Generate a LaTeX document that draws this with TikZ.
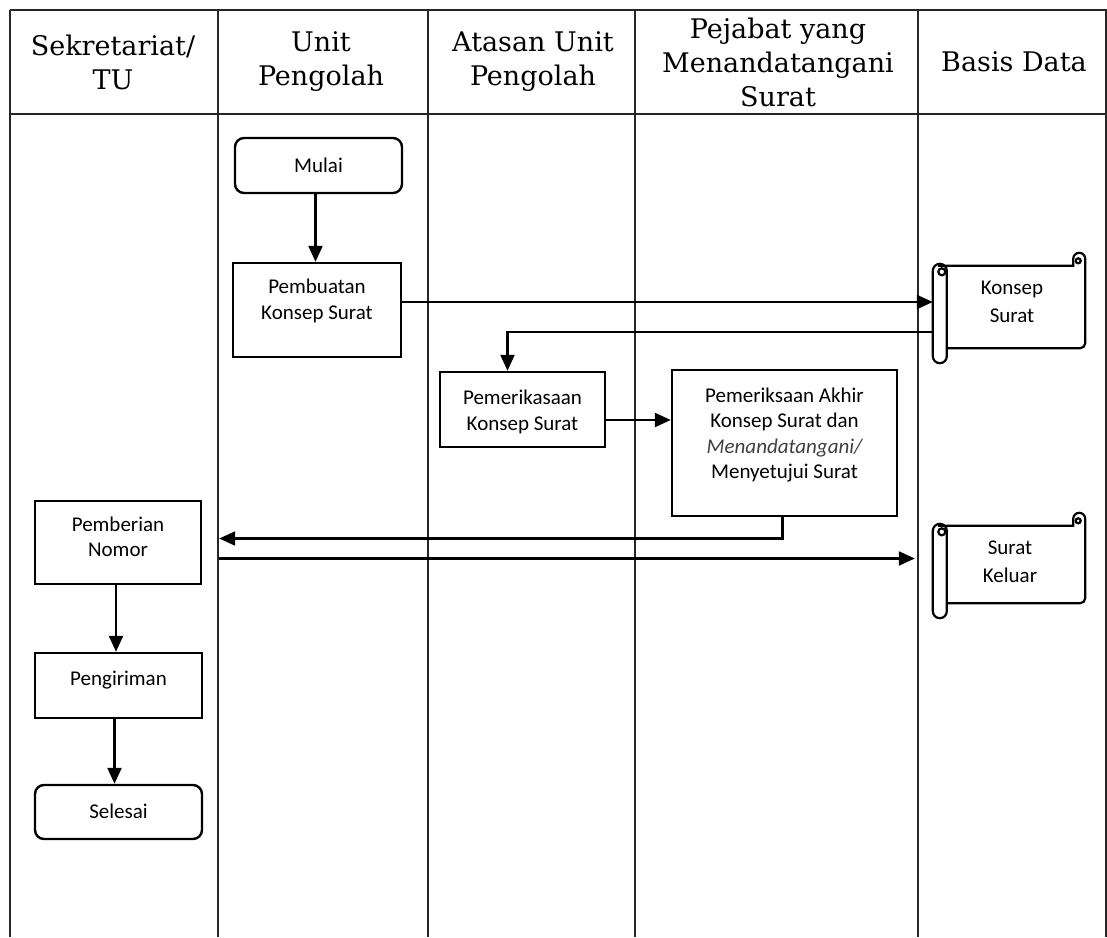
\documentclass[tikz,border=0pt]{standalone}
\usepackage{fontspec}
\usetikzlibrary{arrows.meta,calc}
\newfontfamily\headfont{DejaVu Serif}
\newfontfamily\boxfont{Carlito}

% document scroll drawn around a named node (roll on the left, curl top right)
\newcommand\docroll[1]{%
  \draw[roll, rounded corners=7pt] ($(#1.north west)+(0,-2)$) rectangle ($(#1.south west)+(14,15)$);
  \draw[roll] ($(#1.north west)+(9,6)$) circle[radius=3.5pt];
  \draw[roll] ($(#1.north west)+(5,0)$) -- ($(#1.north east)+(-12,0)$) -- ++(0,-7)
    arc[start angle=180, end angle=0, radius=6pt]
    [rounded corners=5pt] -- (#1.south east) -- ($(#1.south west)+(14,0)$);
  \draw[roll] ($(#1.north east)+(-7,-5)$) circle[radius=2.5pt];
}

\begin{document}
\begin{tikzpicture}[x=1pt,y=-1pt,
  lane/.style={line width=1.6pt, black!85},
  head/.style={font=\headfont\fontsize{27}{34}\selectfont, align=center, inner sep=0pt},
  proc/.style={draw, line width=2.4pt, inner sep=0pt},
  term/.style={proc, rounded corners=9pt},
  doc/.style={inner sep=0pt},
  txt/.style={font=\boxfont\fontsize{21}{25.5}\selectfont, align=center, inner sep=0pt},
  doctxt/.style={txt, font=\boxfont\fontsize{21}{28}\selectfont},
  flow/.style={line width=2.2pt, -{Triangle[length=16pt,width=14pt]}},
  roll/.style={line width=2.2pt}
]
\useasboundingbox (0,0) rectangle (1107,937);

% swimlane table
\draw[lane] (10,10) -- (1107,10);
\draw[lane] (10,114) -- (1107,114);
\foreach \lx in {10,218,428,635,918,1106}
  \draw[lane] (\lx,10) -- (\lx,937);

% lane headings
\node[head] (h1) at (113,62) {Sekretariat/\\TU};
\node[head] (h2) at (321,62) {Unit\\Pengolah};
\node[head] (h3) at (533,62) {Atasan Unit\\Pengolah};
\node[head] (h4) at (778,62) {Pejabat yang\\Menandatangani\\Surat};
\node[head] (h5) at (1014,62) {Basis Data};

% process steps
\node[term, minimum width=167pt, minimum height=55pt] (mulai) at (318.5,165.5) {};
\node[proc, minimum width=168pt, minimum height=94pt] (buat) at (317,310) {};
\node[proc, minimum width=165pt, minimum height=75pt] (periksa) at (522.5,409.5) {};
\node[proc, minimum width=225pt, minimum height=146pt] (akhir) at (784.5,443) {};
\node[proc, minimum width=166pt, minimum height=83pt] (nomor) at (118,542.5) {};
\node[proc, minimum width=167pt, minimum height=65pt] (kirim) at (118.5,685.5) {};
\node[term, minimum width=167pt, minimum height=54pt] (selesai) at (118.5,812) {};

% stored documents
\node[doc, minimum width=152pt, minimum height=82pt] (konsep) at (1009,307) {};
\node[doc, minimum width=152pt, minimum height=77pt] (keluar) at (1009,564.5) {};
\docroll{konsep}
\docroll{keluar}

% step texts
\node[txt] (mulai-t) at (mulai.center) {Mulai};
\node[txt] (buat-t) at ([yshift=9pt]buat.center) {Pembuatan\\Konsep Surat};
\node[txt] (periksa-t) at ([yshift=-2.5pt]periksa.center) {Pemerikasaan\\Konsep Surat};
\node[txt] (akhir-t) at ([yshift=8pt]akhir.center) {Pemeriksaan Akhir\\Konsep Surat dan\\{\itshape\color{black!75}Menandatangani/}\\Menyetujui Surat};
\node[txt] (nomor-t) at ([yshift=5.5pt]nomor.center) {Pemberian\\Nomor};
\node[txt] (kirim-t) at ([yshift=5.5pt]kirim.center) {Pengiriman};
\node[txt] (selesai-t) at ([yshift=1pt]selesai.center) {Selesai};
\node[doctxt] (konsep-t) at ([xshift=3pt,yshift=5pt]konsep.center) {Konsep\\Surat};
\node[doctxt] (keluar-t) at ([xshift=1pt,yshift=2.5pt]keluar.center) {Surat\\Keluar};

% connectors
\draw[flow] ([xshift=-3pt]mulai.south) -- ([xshift=-3pt]mulai.south |- buat.north);
\draw[flow] ([yshift=8pt]buat.east) -- ([yshift=8pt]buat.east -| konsep.west);
\draw[flow] ([yshift=-25pt]konsep.west) -| ([xshift=-15pt]periksa.north);
\draw[flow] ([yshift=-10.5pt]periksa.east) -- ([yshift=-10.5pt]periksa.east -| akhir.west);
\draw[flow, shorten >=17pt] ([xshift=-2pt]akhir.south) |- ([yshift=4pt]nomor.east);
\draw[flow, shorten <=17pt, shorten >=18pt] ([yshift=-16pt]nomor.east) -- ([yshift=-16pt]nomor.east -| keluar.west);
\draw[flow] ([xshift=-2pt]nomor.south) -- ([xshift=-2pt]nomor.south |- kirim.north);
\draw[flow] ([xshift=-4pt]kirim.south) -- ([xshift=-4pt]kirim.south |- selesai.north);
\end{tikzpicture}
\end{document}
